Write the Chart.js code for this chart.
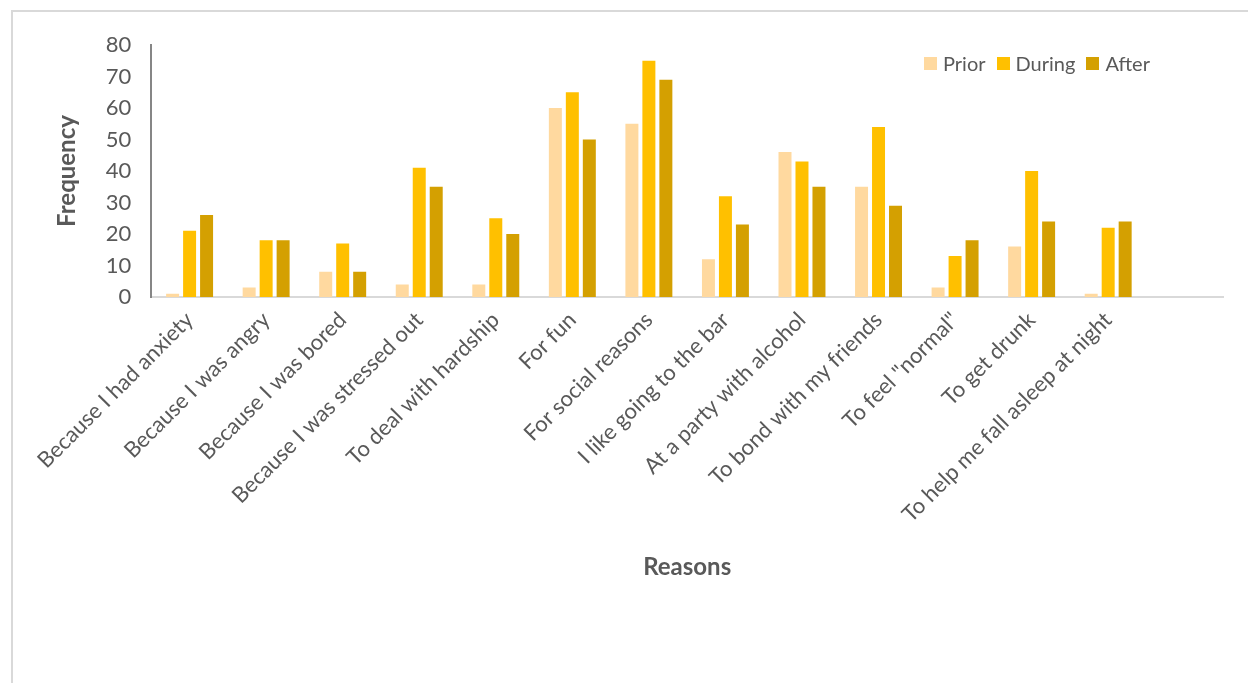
<!DOCTYPE html>
<html>
<head>
<meta charset="utf-8">
<script src="https://cdn.jsdelivr.net/npm/chart.js@4.4.1/dist/chart.umd.min.js"></script>
<style>
html,body{margin:0;padding:0;background:#fff;overflow:hidden;}
#frame{position:absolute;left:11px;top:10px;width:1300px;height:800px;border-left:2px solid #d9d9d9;border-top:2px solid #d9d9d9;}
#wrap{position:absolute;left:0;top:0;width:1248px;height:683px;}
#legend{position:absolute;left:924px;top:51px;display:flex;font-family:Lato,sans-serif;font-size:20px;color:#595959;}
#legend span.item{display:flex;align-items:center;margin-right:11px;}
#legend span.box{display:inline-block;width:13px;height:13px;margin-right:6px;}
</style>
</head>
<body>
<div id="frame"></div>
<div id="wrap"><canvas id="chart" width="1248" height="683"></canvas></div>
<div id="legend"></div>
<script>
const reasons=["Because I had anxiety","Because I was angry","Because I was bored","Because I was stressed out","To deal with hardship","For fun","For social reasons","I like going to the bar","At a party with alcohol","To bond with my friends","To feel \"normal\"","To get drunk","To help me fall asleep at night",""];
const prior=[1,3,8,4,4,60,55,12,46,35,3,16,1,null];
const during=[21,18,17,41,25,65,75,32,43,54,13,40,22,null];
const after=[26,18,8,35,20,50,69,23,35,29,18,24,24,null];
const yTicks=[0,10,20,30,40,50,60,70,80];

const grey="#595959";
const ds=[
{label:"Prior",data:prior,backgroundColor:"#FFD99F"},
{label:"During",data:during,backgroundColor:"#FFC000"},
{label:"After",data:after,backgroundColor:"#D4A001"}
];

const chart=new Chart(document.getElementById("chart"),{
type:"bar",
data:{labels:reasons,datasets:ds},
options:{
responsive:false,
animation:false,
layout:{padding:{left:0,right:25,top:45,bottom:99}},
datasets:{bar:{categoryPercentage:0.6655,barPercentage:0.765}},
plugins:{legend:{display:false},tooltip:{enabled:false}},
scales:{
x:{
// axis box gets capped at half the height, so set it by hand
afterFit:s=>{s.height=287;},
grid:{display:false,drawTicks:false},
border:{display:true,color:"#d9d9d9",width:2},
ticks:{color:grey,font:{family:"Lato",size:22},minRotation:45,maxRotation:45,autoSkip:false,padding:10},
title:{display:true,text:"Reasons",color:grey,font:{family:"Lato",size:24,weight:"bold"},padding:{top:20,bottom:2}}
},
y:{
min:0,max:80,
afterBuildTicks:s=>{s.ticks=yTicks.map(v=>({value:v}));},
grid:{display:false,drawTicks:false},
border:{display:true,color:"#868686",width:2},
ticks:{color:grey,font:{family:"Lato",size:22},padding:20},
title:{display:true,text:"Frequency",color:grey,font:{family:"Lato",size:24,weight:"bold"},padding:{top:53,bottom:4}}
}
}
}
});

// html legend built from the datasets
const lg=document.getElementById("legend");
chart.data.datasets.forEach(d=>{
const it=document.createElement("span");
it.className="item";
const b=document.createElement("span");
b.className="box";
b.style.background=d.backgroundColor;
it.appendChild(b);
it.appendChild(document.createTextNode(d.label));
lg.appendChild(it);
});
</script>
</body>
</html>
